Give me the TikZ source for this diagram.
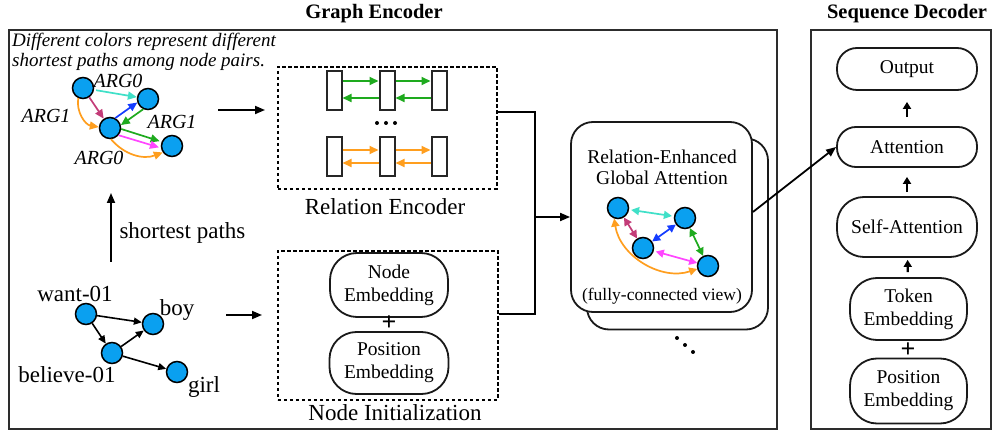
\documentclass[tikz,border=0pt]{standalone}
\usepackage{fontspec}
\setmainfont{Liberation Serif}
\usetikzlibrary{arrows.meta,calc}
\definecolor{nblue}{RGB}{10,160,240}
\definecolor{ccyan}{RGB}{64,224,200}
\definecolor{cmaroon}{RGB}{195,60,120}
\definecolor{corange}{RGB}{255,158,30}
\definecolor{cblue}{RGB}{20,60,255}
\definecolor{cgreen}{RGB}{30,170,30}
\definecolor{cmag}{RGB}{255,70,255}
\definecolor{framec}{RGB}{45,45,45}
\begin{document}
\begin{tikzpicture}[x=1pt,y=1pt,
  gnode/.style={circle,draw=black,line width=1.5pt,fill=nblue,minimum size=21pt,inner sep=0pt},
  carr/.style={line width=1.7pt,-{Triangle[length=9pt,width=8pt]}},
  darr/.style={line width=1.7pt,{Triangle[length=8pt,width=8pt]}-{Triangle[length=8pt,width=8pt]}},
  barr/.style={line width=1.6pt,black,-{Triangle[length=8pt,width=7pt]}},
  karr/.style={line width=1.8pt,black,-{Triangle[length=10pt,width=8pt]}},
  sarr/.style={line width=2.2pt,black,-{Triangle[length=7pt,width=8pt]}},
  outerbox/.style={draw=framec,line width=1.7pt,inner sep=0pt,anchor=north west},
  dashbox/.style={draw=black,line width=1.9pt,dash pattern=on 3.5pt off 2.5pt,inner sep=0pt,anchor=north west},
  col/.style={draw=black!85,line width=2pt,fill=white,minimum width=15pt,minimum height=39pt,inner sep=0pt},
  rbox/.style={draw=black!90,line width=1.8pt,fill=white,align=center,inner sep=0pt,font=\fontsize{19.5}{23}\selectfont},
  ttl/.style={font=\fontsize{20.5}{24}\selectfont\bfseries},
  big/.style={font=\fontsize{23}{26}\selectfont},
  argl/.style={font=\fontsize{20}{22}\selectfont\itshape},
  plus/.style={font=\fontsize{26}{26}\selectfont\bfseries}
]
\useasboundingbox (0,0) rectangle (994,-430);

% outer frames
\node[outerbox,minimum width=768pt,minimum height=399pt] (ge) at (8,-29) {};
\node[outerbox,minimum width=180pt,minimum height=399pt] (sd) at (810,-29) {};
\node[ttl] (tge) at (374,-14) {Graph Encoder};
\node[ttl] (tsd) at (907,-14) {Sequence Decoder};

% top-left caption
\node[anchor=base west,font=\fontsize{19}{21}\selectfont\itshape,inner sep=0pt] (cap1) at (12,-47) {Different colors represent different};
\node[anchor=base west,font=\fontsize{19}{21}\selectfont\itshape,inner sep=0pt] (cap2) at (12,-67) {shortest paths among node pairs.};

% top-left graph
\node[gnode] (A) at (83,-88) {};
\node[gnode] (B) at (148,-99) {};
\node[gnode] (C) at (110,-128) {};
\node[gnode] (D) at (172,-146) {};
\node[argl] (la1) at (118,-81) {ARG0};
\node[argl] (la2) at (46,-116) {ARG1};
\node[argl] (la3) at (172,-122) {ARG1};
\node[argl] (la4) at (99,-158) {ARG0};
\draw[carr,ccyan,shorten <=2pt] (A) -- (B);
\draw[carr,cmaroon] (A) -- (C);
\draw[carr,corange] (A.-115) to[bend right=45] (C.175);
\draw[carr,cblue] (C.62) -- (B.198);
\draw[carr,cgreen] (B.245) -- (C.15);
\draw[carr,cgreen,shorten >=2pt] (C.-5) -- (D.158);
\draw[carr,cmag,shorten >=2pt] (C.-40) -- (D.190);
\draw[carr,corange] (C.-85) to[bend right=35] (D.215);

% arrow to relation encoder
\node[dashbox,minimum width=219pt,minimum height=122pt] (relenc) at (277,-66) {};
\node[big] (lrel) at (385,-207) {Relation Encoder};
\coordinate (g1s) at (218,-110);
\draw[karr,shorten >=12pt] (g1s) -- (relenc.west |- g1s);

% columns
\node[col] (c11) at (334,-90.5) {};
\node[col] (c12) at (387,-90.5) {};
\node[col] (c13) at (439,-90.5) {};
\node[col] (c21) at (334,-157) {};
\node[col] (c22) at (387,-157) {};
\node[col] (c23) at (439,-157) {};
\draw[carr,cgreen] ([yshift=9.5pt]c11.east) -- ([yshift=9.5pt]c12.west);
\draw[carr,cgreen] ([yshift=9.5pt]c12.east) -- ([yshift=9.5pt]c13.west);
\draw[carr,cgreen] ([yshift=-7.5pt]c12.west) -- ([yshift=-7.5pt]c11.east);
\draw[carr,cgreen] ([yshift=-7.5pt]c13.west) -- ([yshift=-7.5pt]c12.east);
\draw[carr,corange] ([yshift=7pt]c21.east) -- ([yshift=7pt]c22.west);
\draw[carr,corange] ([yshift=7pt]c22.east) -- ([yshift=7pt]c23.west);
\draw[carr,corange] ([yshift=-6pt]c22.west) -- ([yshift=-6pt]c21.east);
\draw[carr,corange] ([yshift=-6pt]c23.west) -- ([yshift=-6pt]c22.east);
\fill (377,-123) circle (2pt);
\fill (386,-123) circle (2pt);
\fill (395,-123) circle (2pt);

% shortest paths arrow
\coordinate (sp1) at (111,-262);
\coordinate (sp2) at (111,-193);
\draw[karr] (sp1) -- (sp2);
\node[big,anchor=west] (lsp) at (116,-233) {shortest paths};

% bottom-left graph
\node[gnode] (want) at (86,-314) {};
\node[gnode] (boy) at (153,-324) {};
\node[gnode] (bel) at (112,-353) {};
\node[gnode] (girl) at (177,-372) {};
\node[big] (lwant) at (75,-294) {want-01};
\node[big] (lboy) at (177,-310) {boy};
\node[big] (lbel) at (67,-375) {believe-01};
\node[big] (lgirl) at (204,-387) {girl};
\draw[barr] (want) -- (boy);
\draw[barr] (want) -- (bel);
\draw[barr] (bel) -- (boy);
\draw[barr] (bel) -- (girl);

% node initialization
\node[dashbox,minimum width=220pt,minimum height=149pt] (ninit) at (277,-250) {};
\node[big] (lni) at (395,-413) {Node Initialization};
\coordinate (g2s) at (226,-315);
\draw[karr,shorten >=15pt] (g2s) -- (ninit.west |- g2s);
\node[rbox,minimum width=118pt,minimum height=64pt,rounded corners=27pt] (nemb) at (389,-285) {Node\\Embedding};
\node[rbox,minimum width=119pt,minimum height=62pt,rounded corners=27pt] (pemb) at (389,-363) {Position\\Embedding};
\node[plus] (p1) at (389,-323) {+};

% RGA
\node[draw=black!90,line width=1.8pt,fill=white,rounded corners=22pt,minimum width=181pt,minimum height=191pt,inner sep=0pt] (rgab) at (677.5,-234) {};
\node[draw=black!90,line width=1.8pt,fill=white,rounded corners=22pt,minimum width=181pt,minimum height=190pt,inner sep=0pt] (rga) at (661.5,-217) {};
\node[align=center,font=\fontsize{19.5}{21}\selectfont] (lrga) at (662,-167) {Relation-Enhanced\\Global Attention};
\node[font=\fontsize{17.5}{20}\selectfont] (lfc) at (662,-296) {(fully-connected view)};
\node[gnode] (N1) at (618,-208) {};
\node[gnode] (N2) at (685,-218) {};
\node[gnode] (N3) at (643,-248) {};
\node[gnode] (N4) at (708,-266) {};
\draw[darr,ccyan,shorten <=2pt,shorten >=2pt] (N1) -- (N2);
\draw[darr,cmaroon] (N1) -- (N3);
\draw[darr,cblue] (N3) -- (N2);
\draw[darr,cgreen] (N2) -- (N4);
\draw[darr,cmag,shorten <=2pt] (N3) -- (N4);
\draw[darr,corange] (N1.250) to[bend right=50] (N4.195);
\fill (677,-338) circle (2pt);
\fill (685,-345) circle (2pt);
\fill (693,-352) circle (2pt);

% junction lines
\coordinate (j1) at (535,-112);
\coordinate (j2) at (535,-314);
\draw[line width=1.8pt] (relenc.east |- j1) -- (j1) -- (j2) -- (ninit.east |- j2);
\draw[karr] (j1 |- rga.west) -- (rga.west);

% decoder
\node[rbox,minimum width=140pt,minimum height=42pt,rounded corners=20pt] (out) at (907,-69) {Output};
\node[rbox,minimum width=140pt,minimum height=40pt,rounded corners=19pt] (att) at (907,-147) {Attention};
\node[rbox,minimum width=140pt,minimum height=60pt,rounded corners=27pt] (sa) at (907,-227) {Self-Attention};
\node[rbox,minimum width=117pt,minimum height=62pt,rounded corners=27pt] (tok) at (908.5,-309) {Token\\Embedding};
\node[rbox,minimum width=117pt,minimum height=65pt,rounded corners=27pt] (pos) at (908.5,-391) {Position\\Embedding};
\node[plus] (p2) at (908,-350) {+};
\draw[sarr,shorten <=9pt,shorten >=11pt] (att) -- (out);
\draw[sarr,shorten <=4pt,shorten >=9pt] (sa) -- (att);
\draw[sarr,shorten <=5pt,shorten >=2pt] (tok) -- (sa);

\draw[karr] ([yshift=5pt]rga.east) -- (att.west);
\end{tikzpicture}
\end{document}
